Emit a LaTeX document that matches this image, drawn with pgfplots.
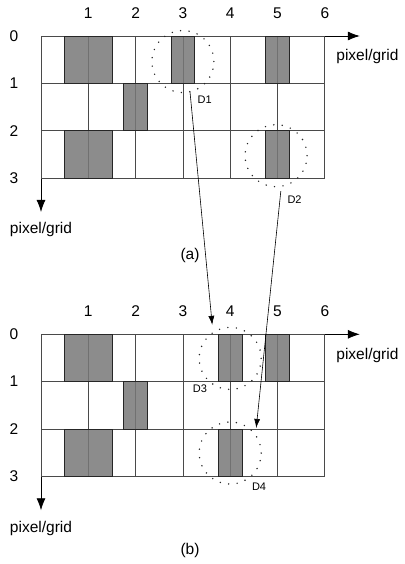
\documentclass[border=0pt]{standalone}
\usepackage{fontspec}
\setmainfont{Liberation Sans}
\usepackage{pgfplots}
\pgfplotsset{compat=1.18}
\usetikzlibrary{arrows.meta}
\definecolor{barfill}{HTML}{787878}
\definecolor{gridline}{HTML}{4A4A4A}
\newcommand{\lbl}{\fontsize{15.5}{18}\selectfont}
\newcommand{\dfont}{\fontsize{11}{13}\selectfont}

\tikzset{
  ring/.style={black!85, line width=1.6pt, line cap=round, dash pattern=on 0pt off 8.5pt},
  link/.style={line width=0.6pt, -{Latex[length=9pt,width=6pt]}},
}
\pgfplotsset{
  pixgrid/.style={
    x=47.3pt, y=47.3pt, y dir=reverse,
    xmin=0, xmax=6.74, ymin=0, ymax=3.72,
    axis x line=top, axis y line=left, anchor=north west, clip=false,
    axis line style={line width=0.8pt, -{Latex[length=12pt,width=9pt]}},
    xtick={1,...,6}, ytick={0,...,3},
    major tick length=0pt,
    /pgf/number format/assume math mode=true,
    ticklabel style={font=\lbl, inner sep=0pt},
    xticklabel style={anchor=center, yshift=23pt},
    yticklabel style={anchor=center, xshift=-27pt},
    every axis x label/.style={at={(axis cs:6.17,0.44)}, anchor=west, font=\lbl},
    every axis y label/.style={at={(axis cs:0,4.10)}, anchor=center, font=\lbl},
    xlabel={pixel/grid}, ylabel={pixel/grid},
  },
  cell/.style={fill=barfill, fill opacity=0.85, draw=black!85, line width=0.8pt},
  net/.style={gridline, line width=0.8pt, mark=none},
}

\begin{document}
\begin{tikzpicture}
\path[use as bounding box] (0,0) rectangle (404pt,-564pt);

% (a)
\begin{axis}[pixgrid, at={(41pt,-36pt)},
  title={(a)}, every axis title/.style={at={(axis cs:3.15,4.65)}, anchor=center, font=\lbl}]
\addplot[net] coordinates {(0,0) (0,3) (1,3) (1,0) (2,0) (2,3) (3,3) (3,0) (4,0) (4,3) (5,3) (5,0) (6,0) (6,3)};
\addplot[net] coordinates {(0,0) (6,0) (6,1) (0,1) (0,2) (6,2) (6,3) (0,3)};
\addplot[cell] coordinates {(0.5,0) (1.5,0) (1.5,1) (0.5,1)} -- cycle;
\addplot[cell] coordinates {(2.75,0) (3.25,0) (3.25,1) (2.75,1)} -- cycle;
\addplot[cell] coordinates {(4.75,0) (5.25,0) (5.25,1) (4.75,1)} -- cycle;
\addplot[cell] coordinates {(1.75,1) (2.25,1) (2.25,2) (1.75,2)} -- cycle;
\addplot[cell] coordinates {(0.5,2) (1.5,2) (1.5,3) (0.5,3)} -- cycle;
\addplot[cell] coordinates {(4.75,2) (5.25,2) (5.25,3) (4.75,3)} -- cycle;
\draw[ring] (axis cs:3,0.54) circle[radius=31pt];
\draw[ring] (axis cs:4.97,2.53) circle[radius=31pt];
\node[font=\dfont] at (axis cs:3.46,1.35) {D1};
\node[font=\dfont] at (axis cs:5.36,3.45) {D2};
\coordinate (d1s) at (axis cs:3.15,1.18);
\coordinate (d2s) at (axis cs:5.07,3.28);
\end{axis}

% (b)
\begin{axis}[pixgrid, at={(41pt,-334.3pt)},
  title={(b)}, every axis title/.style={at={(axis cs:3.15,4.56)}, anchor=center, font=\lbl}]
\addplot[net] coordinates {(0,0) (0,3) (1,3) (1,0) (2,0) (2,3) (3,3) (3,0) (4,0) (4,3) (5,3) (5,0) (6,0) (6,3)};
\addplot[net] coordinates {(0,0) (6,0) (6,1) (0,1) (0,2) (6,2) (6,3) (0,3)};
\addplot[cell] coordinates {(0.5,0) (1.5,0) (1.5,1) (0.5,1)} -- cycle;
\addplot[cell] coordinates {(3.75,0) (4.25,0) (4.25,1) (3.75,1)} -- cycle;
\addplot[cell] coordinates {(4.75,0) (5.25,0) (5.25,1) (4.75,1)} -- cycle;
\addplot[cell] coordinates {(1.75,1) (2.25,1) (2.25,2) (1.75,2)} -- cycle;
\addplot[cell] coordinates {(0.5,2) (1.5,2) (1.5,3) (0.5,3)} -- cycle;
\addplot[cell] coordinates {(3.75,2) (4.25,2) (4.25,3) (3.75,3)} -- cycle;
\draw[ring] (axis cs:4,0.51) circle[radius=31pt];
\draw[ring] (axis cs:4,2.51) circle[radius=31pt];
\node[font=\dfont] at (axis cs:3.36,1.14) {D3};
\node[font=\dfont] at (axis cs:4.61,3.23) {D4};
\coordinate (d1e) at (axis cs:3.62,-0.2);
\coordinate (d2e) at (axis cs:4.55,1.98);
\end{axis}

\draw[link] (d1s) -- (d1e);
\draw[link] (d2s) -- (d2e);
\end{tikzpicture}
\end{document}
